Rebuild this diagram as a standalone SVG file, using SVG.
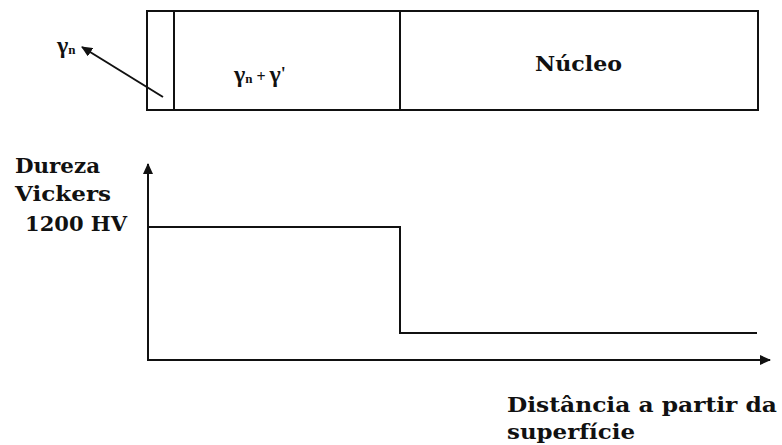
<svg xmlns="http://www.w3.org/2000/svg" width="782" height="445" viewBox="0 0 782 445">
<defs>
<style>
.ln{stroke:#111;fill:none;stroke-width:2}
.lbl{font-family:"DejaVu Serif","Liberation Serif",serif;font-weight:bold;fill:#111}
.sym{font-family:"Liberation Serif","DejaVu Serif",serif;font-weight:bold;fill:#111}
</style>
<marker id="ah" markerWidth="11" markerHeight="10" refX="10" refY="5" orient="auto" markerUnits="userSpaceOnUse"><path d="M0,0 L11,5 L0,10 z" fill="#111"/></marker>
</defs>
<rect width="782" height="445" fill="#fff"/>
<g id="bar">
<rect x="147" y="11" width="611" height="99" class="ln"/>
<line x1="174" y1="11" x2="174" y2="110" class="ln"/>
<line x1="400" y1="11" x2="400" y2="110" class="ln"/>
</g>
<g id="gamma-n-label">
<text x="57" y="53" class="sym" font-size="24">γ<tspan font-size="13" dy="1">n</tspan></text>
</g>
<g id="gamma-mix">
<text x="234" y="82" class="sym" font-size="24">γ<tspan font-size="13" dy="1">n</tspan><tspan dy="-1" font-size="16"> + </tspan>γ<tspan font-size="18" dy="-2">'</tspan></text>
</g>
<g id="nucleo">
<text x="535" y="71" class="lbl" font-size="20" textLength="87" lengthAdjust="spacingAndGlyphs">Núcleo</text>
</g>
<g id="y-label">
<text x="15" y="173" class="lbl" font-size="20" textLength="85" lengthAdjust="spacingAndGlyphs">Dureza</text>
<text x="15" y="201" class="lbl" font-size="20" textLength="96" lengthAdjust="spacingAndGlyphs">Vickers</text>
<text x="25" y="231" class="lbl" font-size="20" textLength="102" lengthAdjust="spacingAndGlyphs">1200 HV</text>
</g>
<g id="x-label">
<text x="507" y="412" class="lbl" font-size="20" textLength="270" lengthAdjust="spacingAndGlyphs">Distância a partir da</text>
<text x="507" y="439" class="lbl" font-size="20" textLength="128" lengthAdjust="spacingAndGlyphs">superfície</text>
</g>
<g id="connectors">
<line x1="163" y1="97" x2="82" y2="47" class="ln" stroke-width="2.5" marker-end="url(#ah)"/>
<line x1="148" y1="361" x2="148" y2="164" class="ln" marker-end="url(#ah)"/>
<line x1="147" y1="360" x2="770" y2="360" class="ln" stroke-width="3" marker-end="url(#ah)"/>
<polyline points="148,227 400,227 400,333 757,333" class="ln"/>
</g>
</svg>
